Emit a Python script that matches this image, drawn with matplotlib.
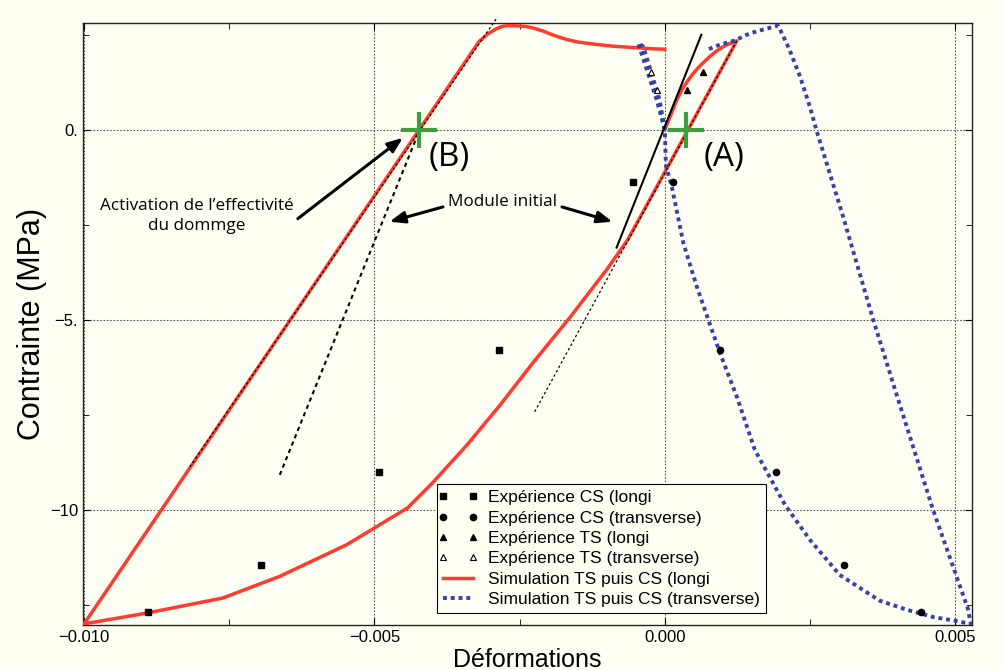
import numpy as np
import matplotlib.pyplot as plt
from matplotlib.lines import Line2D
from matplotlib.legend_handler import HandlerLine2D

# Expérience CS (compression)
cs_sig = [-1.38, -5.8, -9.0, -11.46, -12.69]
cs_eps_longi = [-0.00055, -0.00285, -0.00492, -0.00695, -0.0089]
cs_eps_trans = [0.00014, 0.00095, 0.00191, 0.00308, 0.00441]

# Expérience TS (traction)
ts_sig = [1.05, 1.53]
ts_eps_longi = [0.00038, 0.00066]
ts_eps_trans = [-0.00014, -0.00023]

# Simulation TS puis CS, longitudinal
sim_l_eps = [0.0, 0.0001, 0.0002, 0.0003, 0.0004, 0.0005, 0.0006, 0.0007, 0.0008,
             0.0009, 0.001, 0.0011, 0.00124,
             -0.00064, -0.001, -0.00164, -0.00227, -0.00284, -0.00341, -0.004,
             -0.00443, -0.00548, -0.00663, -0.00761, -0.00893, -0.0100,
             -0.0032, -0.00305, -0.0029, -0.0028, -0.00272, -0.0026, -0.0024,
             -0.00227, -0.0021, -0.0019, -0.0017, -0.0015, -0.0012, -0.0009,
             -0.0005, -0.0002, 0.0]
sim_l_sig = [0.0, 0.38, 0.76, 1.07, 1.3, 1.5, 1.67, 1.82, 1.96,
             2.08, 2.18, 2.26, 2.34,
             -2.9, -3.68, -4.95, -6.13, -7.25, -8.3, -9.29,
             -9.95, -10.92, -11.75, -12.32, -12.72, -13.0,
             2.32, 2.52, 2.66, 2.72, 2.74, 2.74, 2.72,
             2.68, 2.6, 2.48, 2.38, 2.31, 2.25, 2.2,
             2.16, 2.13, 2.12]

# Simulation TS puis CS, transverse
sim_t_eps = [0.0, -0.00014, -0.00029, -0.00046, -0.00037, -0.00023, -0.00009, 0.0,
             0.00002, 0.00012, 0.00032, 0.00055, 0.00075, 0.00095, 0.00124, 0.00155,
             0.00207, 0.0025, 0.00301, 0.0037, 0.00417, 0.00462, 0.005, 0.00527,
             0.00522, 0.00462, 0.00402, 0.00359, 0.00307, 0.00261, 0.0025,
             0.00233, 0.00215, 0.00203, 0.00195, 0.00158, 0.00141, 0.00121,
             0.00095, 0.00072]
sim_t_sig = [0.0, 0.79, 1.49, 2.28, 2.19, 1.49, 0.79, 0.0,
             -0.95, -1.49, -2.98, -4.12, -5.0, -5.87, -7.02, -8.42,
             -9.87, -10.79, -11.71, -12.39, -12.63, -12.82, -12.92, -13.0,
             -12.6, -10.0, -7.1, -5.0, -2.28, 0.0, 0.6,
             1.4, 2.1, 2.5, 2.74, 2.59, 2.5, 2.35,
             2.24, 2.1]

# droites de module
mod_b_eps = [-0.00663, -0.00422]
mod_b_sig = [-9.08, 0.0]
dam_b_eps = [-0.00818, -0.00288]
dam_b_sig = [-8.87, 2.97]
mod_a_eps = [-0.00083, 0.00063]
mod_a_sig = [-3.1, 2.5]
dam_a_eps = [-0.00224, 0.00124]
dam_a_sig = [-7.42, 2.34]

# points d'activation
act_eps = [-0.00424, 0.00037]
act_sig = [0.0, 0.0]

bg = '#fffff4'
red = '#ff3a2e'
blue = '#3443a8'
green = '#3d9e3d'

fig = plt.figure(figsize=(10.02, 6.70), dpi=100, facecolor=bg)
ax = fig.add_axes([0.0828, 0.0672, 0.8872, 0.8985])
ax.set_facecolor(bg)

ax.plot(dam_b_eps, dam_b_sig, color='black', lw=0.9, ls=(0, (2, 2)), clip_on=False, zorder=4)
ax.plot(mod_b_eps, mod_b_sig, color='black', lw=1.5, ls=(0, (2, 1.8)), zorder=4)
ax.plot(dam_a_eps, dam_a_sig, color='black', lw=0.9, ls=(0, (2, 2)), zorder=4)
ax.plot(mod_a_eps, mod_a_sig, color='black', lw=1.5, zorder=4)

ax.plot(sim_l_eps, sim_l_sig, color=red, lw=2.5, zorder=3)
ax.plot(sim_t_eps, sim_t_sig, color=blue, lw=2.8, ls=(0, (1, 1)), zorder=3)

ax.plot(cs_eps_longi, cs_sig, 's', color='black', ms=5, zorder=5)
ax.plot(cs_eps_trans, cs_sig, 'o', color='black', ms=4.5, zorder=5)
ax.plot(ts_eps_longi, ts_sig, '^', color='black', ms=4, zorder=5)
ax.plot(ts_eps_trans, ts_sig, '^', mfc='white', mec='black', mew=0.8, ms=4.5, zorder=5)

ax.plot(act_eps, act_sig, '+', color=green, ms=26, mew=3, zorder=6)

tf = ['Open Sans', 'DejaVu Sans']
ax.text(-0.00372, -0.74, '(B)', fontsize=24, family=tf, ha='center', va='center')
ax.text(0.00102, -0.74, '(A)', fontsize=24, family=tf, ha='center', va='center')
ax.text(-0.00806, -2.26, 'Activation de l’effectivité\ndu dommge', fontsize=12.3,
        family=tf, ha='center', va='center', linespacing=1.35)
ax.text(-0.00279, -1.89, 'Module initial', fontsize=12.3, family=tf,
        ha='center', va='center')

arrow = dict(arrowstyle='-|>,head_length=0.9,head_width=0.35', color='black', lw=2.2,
             shrinkA=0, shrinkB=0)
ax.annotate('', xy=(-0.00451, -0.21), xytext=(-0.00632, -2.34), arrowprops=arrow)
ax.annotate('', xy=(-0.00474, -2.42), xytext=(-0.00382, -2.03), arrowprops=arrow)
ax.annotate('', xy=(-0.0009, -2.42), xytext=(-0.00177, -2.03), arrowprops=arrow)

ax.set_xlim(-0.01002, 0.00529)
ax.set_ylim(-13.03, 2.81)
ax.set_xticks([-0.010, -0.005, 0.0, 0.005])
ax.set_xticklabels(['\u22120.010', '\u22120.005', '0.000', '0.005'])
ax.set_xticks([-0.0075, -0.0025, 0.0025], minor=True)
ax.set_yticks([-10, -5, 0])
ax.set_yticklabels(['\u221210', '\u22125.', '0.'])
ax.set_yticks([-12.5, -7.5, -2.5, 2.5], minor=True)
ax.tick_params(which='both', direction='in', top=True, right=True, labelsize=12)
ax.tick_params(which='major', length=5)
ax.tick_params(which='minor', length=4)
for lab in ax.get_xticklabels() + ax.get_yticklabels():
    lab.set_family('Liberation Sans')
ax.grid(True, which='major', ls=(0, (1.5, 1.5)), color='#555555', lw=0.8)
for s in ax.spines.values():
    s.set_linewidth(1.0)
    s.set_color('#222222')

ax.set_xlabel('Déformations', fontsize=18, family='Liberation Sans', labelpad=2)
ax.set_ylabel('Contrainte (MPa)', fontsize=22, family='Liberation Sans', labelpad=2)

handles = [
    Line2D([], [], ls='none', marker='s', color='black', ms=5),
    Line2D([], [], ls='none', marker='o', color='black', ms=4.5),
    Line2D([], [], ls='none', marker='^', color='black', ms=4),
    Line2D([], [], ls='none', marker='^', mfc='white', mec='black', mew=0.8, ms=4.5),
    Line2D([], [], color=red, lw=2.5),
    Line2D([], [], color=blue, lw=2.8, ls=(0, (1, 1))),
]
labels = ['Expérience CS (longi', 'Expérience CS (transverse)', 'Expérience TS (longi',
          'Expérience TS (transverse)', 'Simulation TS puis CS (longi',
          'Simulation TS puis CS (transverse)']
leg = ax.legend(handles, labels, loc='upper left', bbox_to_anchor=(0.398, 0.234),
                borderaxespad=0, numpoints=2, handlelength=1.75, handletextpad=0.85,
                labelspacing=0.3, borderpad=0.35, fancybox=False, framealpha=1,
                prop={'family': 'Liberation Sans', 'size': 12.5},
                handler_map={Line2D: HandlerLine2D(marker_pad=0.0)})
leg.get_frame().set_edgecolor('black')
leg.get_frame().set_facecolor(bg)
leg.get_frame().set_linewidth(0.8)

fig.savefig('out.png', dpi=100, facecolor=bg)
